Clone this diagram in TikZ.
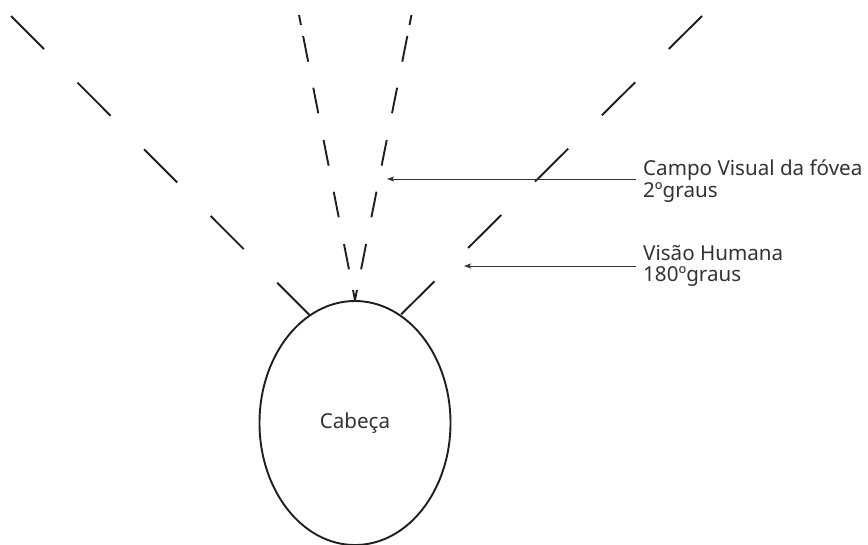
\documentclass[tikz,border=0pt]{standalone}
\usepackage{fontspec}
\setmainfont{Noto Sans}
\usetikzlibrary{arrows.meta,shapes.geometric}
\definecolor{ink}{HTML}{1E1E1E}
\definecolor{txt}{HTML}{333333}
\begin{document}
\begin{tikzpicture}[x=1pt,y=-1pt,
  ray/.style={draw=ink,line width=1.9pt},
  outerdash/.style={dash pattern=on 46.8pt off 47.4pt},
  innerdash/.style={dash pattern=on 10.2pt off 11.2pt on 26.2pt off 26.5pt on 26.1pt off 27.2pt on 26.2pt off 26.5pt on 26.1pt off 27.2pt on 25.8pt off 21.1pt on 12pt off 10pt},
  pointer/.style={draw=txt,line width=0.9pt,-{Stealth[length=7pt,width=5pt,inset=1.5pt]}},
  lbl/.style={text=txt,font=\fontsize{20.6}{21.5}\selectfont,inner sep=0pt,align=left}]
\useasboundingbox (0,0) rectangle (868,544);
% head
\node[ellipse,draw=ink,line width=1.9pt,minimum width=191pt,minimum height=244pt,
      inner sep=0pt,text=txt,font=\fontsize{20.6}{21.5}\selectfont] (head) at (355,423) {Cabeça};
% ray ends
\coordinate (olA) at (11,16);
\coordinate (olB) at (309.5,315);
\coordinate (orA) at (702,16);
\coordinate (orB) at (400.5,315);
\coordinate (ilA) at (299,15);
\coordinate (irA) at (411.5,15);
% outer rays (human vision)
\draw[ray,outerdash] (olA) -- (olB);
\draw[ray,outerdash] (orA) -- (orB);
% inner rays (fovea)
\draw[ray,innerdash] (ilA) -- (head.north);
\draw[ray,innerdash] (irA) -- (head.north);
% labels
\node[lbl,anchor=base west] (fovea) at (643,197) {Campo Visual da fóvea\\2ºgraus};
\node[lbl,anchor=base west] (human) at (643,281.5) {Visão Humana\\180ºgraus};
% pointers
\coordinate (p1s) at (636,179);
\coordinate (p1e) at (387,179);
\coordinate (p2s) at (636,266);
\coordinate (p2e) at (464,266);
\draw[pointer] (p1s) -- (p1e);
\draw[pointer] (p2s) -- (p2e);
\end{tikzpicture}
\end{document}
